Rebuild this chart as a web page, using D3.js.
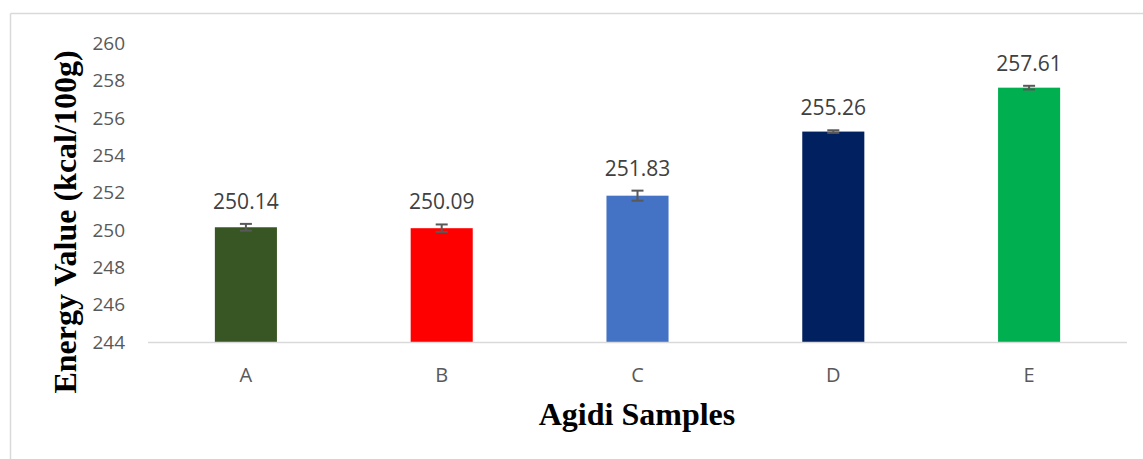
<!DOCTYPE html>
<html><head><meta charset="utf-8">
<script src="https://cdn.jsdelivr.net/npm/d3@7"></script>
<style>body{margin:0;background:#fff;}svg{display:block;}</style>
</head><body>
<svg id="c" width="1143" height="459"></svg>
<script>
const categories = ["A","B","C","D","E"];
const values = [250.14, 250.09, 251.83, 255.26, 257.61];
const errors = [0.18, 0.2, 0.27, 0.07, 0.1];
const colors = ["#375623","#ff0000","#4472c4","#002060","#00b050"];
const yTicks = [244,246,248,250,252,254,256,258,260];

const svg = d3.select("#c");
const sans = "'Open Sans', Carlito, Lato, sans-serif";
const serif = "'Liberation Serif','Times New Roman',serif";
// frame
svg.append("line").attr("x1",10.5).attr("x2",1143).attr("y1",13.5).attr("y2",13.5).attr("stroke","#d9d9d9").attr("stroke-width",1.5);
svg.append("line").attr("x1",10.5).attr("x2",10.5).attr("y1",13.5).attr("y2",459).attr("stroke","#d9d9d9").attr("stroke-width",1.5);

const x = d3.scaleBand().domain(categories).range([148,1127]).paddingInner(0.683).paddingOuter(0.3415);
const y = d3.scaleLinear().domain([244,260]).range([342,43]);

// y tick labels
svg.append("g").selectAll("text").data(yTicks).join("text")
  .attr("x",125).attr("y",d=>y(d)).attr("dy","0.36em").attr("text-anchor","end")
  .attr("font-family",sans).attr("font-size",19).attr("fill","#595959")
  .text(d=>d);

// bars
svg.append("g").selectAll("rect").data(values).join("rect")
  .attr("x",(d,i)=>x(categories[i])).attr("width",x.bandwidth())
  .attr("y",d=>y(d)).attr("height",d=>y(244)-y(d))
  .attr("fill",(d,i)=>colors[i]);

// axis line
svg.append("line").attr("x1",148).attr("x2",1127).attr("y1",y(244)+0.5).attr("y2",y(244)+0.5).attr("stroke","#d9d9d9").attr("stroke-width",1.5);

// error bars
const eg = svg.append("g").attr("stroke","#595959").attr("stroke-width",2);
values.forEach((v,i)=>{
  const cx = x(categories[i]) + x.bandwidth()/2;
  eg.append("line").attr("x1",cx).attr("x2",cx).attr("y1",y(v+errors[i])).attr("y2",y(v-errors[i]));
  eg.append("line").attr("x1",cx-6).attr("x2",cx+6).attr("y1",y(v+errors[i])).attr("y2",y(v+errors[i]));
  eg.append("line").attr("x1",cx-6).attr("x2",cx+6).attr("y1",y(v-errors[i])).attr("y2",y(v-errors[i]));
});

// data labels
svg.append("g").selectAll("text").data(values).join("text")
  .attr("x",(d,i)=>x(categories[i])+x.bandwidth()/2).attr("y",(d,i)=>y(d+errors[i])-15)
  .attr("text-anchor","middle")
  .attr("font-family",sans).attr("font-size",21).attr("fill","#404040")
  .text(d=>d.toFixed(2));

// x labels
svg.append("g").selectAll("text").data(categories).join("text")
  .attr("x",d=>x(d)+x.bandwidth()/2).attr("y",382)
  .attr("text-anchor","middle")
  .attr("font-family",sans).attr("font-size",20).attr("fill","#595959")
  .text(d=>d);

// axis titles
svg.append("text").attr("x",637).attr("y",425).attr("text-anchor","middle")
  .attr("font-family",serif).attr("font-weight","bold").attr("font-size",32).attr("fill","#000")
  .text("Agidi Samples");
svg.append("text").attr("transform","translate(76,222) rotate(-90)").attr("text-anchor","middle")
  .attr("font-family",serif).attr("font-weight","bold").attr("font-size",32).attr("fill","#000")
  .text("Energy Value (kcal/100g)");
</script>
</body></html>
